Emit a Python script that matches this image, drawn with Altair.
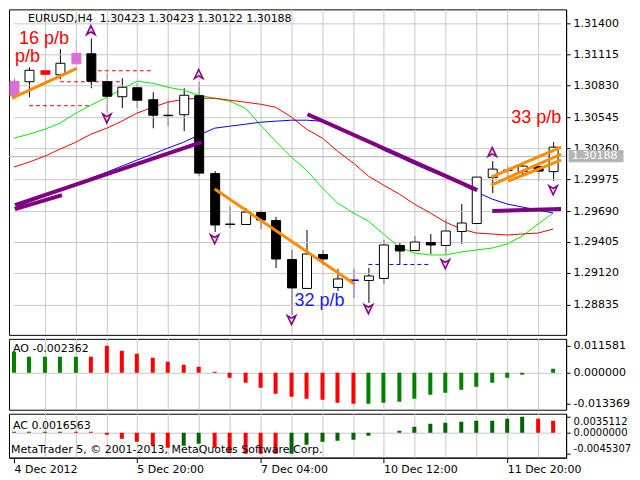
import altair as alt
import pandas as pd

FONT = "DejaVu Sans"
W = 558
H_MAIN, H_AO, H_AC = 326, 71, 44

# ---------------- data ----------------
bars = list(range(36))  # H4 bars, 4 Dec 2012 onwards
open_ = [1.30741, 1.30866, 1.30973, 1.30937, 1.31035, 1.31124, 1.30866, 1.30732, 1.30812, 1.30705,
         1.30563, 1.30572, 1.30741, 1.30037, 1.29565, 1.29565, 1.29681, 1.29601, 1.29254, 1.28986,
         1.29298, 1.28995, 1.29058, 1.29058, 1.29076, 1.29378, 1.29334, 1.29405, 1.29378, 1.29503,
         1.29574, 1.29993, 1.30064, 1.30055, 1.30100, 1.30055]
high = [1.30901, 1.30999, 1.31070, 1.31160, 1.31249, 1.31258, 1.30946, 1.30901, 1.30848, 1.30768,
        1.30696, 1.30803, 1.30857, 1.30055, 1.29735, 1.29717, 1.29699, 1.29637, 1.29334, 1.29512,
        1.29334, 1.29156, 1.29156, 1.29165, 1.29423, 1.29405, 1.29458, 1.29476, 1.29610, 1.29752,
        1.29993, 1.30144, 1.30100, 1.30127, 1.30118, 1.30313]
low = [1.30705, 1.30723, 1.30830, 1.30892, 1.31035, 1.30803, 1.30590, 1.30625, 1.30625, 1.30438,
       1.30465, 1.30411, 1.30002, 1.29494, 1.29530, 1.29556, 1.29521, 1.29165, 1.28737, 1.28978,
       1.29200, 1.28960, 1.28897, 1.28853, 1.29022, 1.29209, 1.29325, 1.29298, 1.29298, 1.29387,
       1.29574, 1.29850, 1.29984, 1.30002, 1.29957, 1.29957]
close = [1.30866, 1.30973, 1.30937, 1.31035, 1.31124, 1.30866, 1.30732, 1.30812, 1.30696, 1.30563,
         1.30563, 1.30741, 1.30037, 1.29556, 1.29565, 1.29681, 1.29601, 1.29254, 1.28986, 1.29298,
         1.29254, 1.29067, 1.29058, 1.29093, 1.29378, 1.29325, 1.29405, 1.29378, 1.29503, 1.29574,
         1.29993, 1.30073, 1.30064, 1.30100, 1.30055, 1.30269]
body_fill = ["#da70d6", "white", "red", "white", "#da70d6", "black", "black", "white", "black", "black",
             "black", "white", "black", "black", "black", "white", "black", "black", "black", "white",
             "black", "white", "blue", "white", "white", "black", "white", "black", "white", "white",
             "white", "white", "black", "white", "black", "white"]
body_edge = ["#da70d6", "black", "red", "black", "#da70d6"] + ["black"] * 17 + ["blue"] + ["black"] * 13

ma_green = [1.30349, 1.30385, 1.30429, 1.30492, 1.30581, 1.30652, 1.30723, 1.30794, 1.30866, 1.30848,
            1.30812, 1.30785, 1.30741, 1.30714, 1.30688, 1.30625, 1.30474, 1.30322, 1.30180, 1.30064,
            1.29895, 1.29761, 1.29672, 1.29592, 1.29476, 1.29360, 1.29307, 1.29289, 1.29289, 1.29316,
            1.29334, 1.29352, 1.29387, 1.29458, 1.29565, 1.29672]
ma_red = [1.30091, 1.30135, 1.30189, 1.30251, 1.30313, 1.30385, 1.30438, 1.30509, 1.30581, 1.30634,
          1.30679, 1.30705, 1.30714, 1.30714, 1.30696, 1.30679, 1.30661, 1.30634, 1.30545, 1.30429,
          1.30349, 1.30233, 1.30126, 1.30002, 1.29922, 1.29841, 1.29752, 1.29672, 1.29583, 1.29521,
          1.29485, 1.29476, 1.29467, 1.29476, 1.29485, 1.29521]
ma_blue = [1.29717, 1.29770, 1.29824, 1.29877, 1.29930, 1.29984, 1.30046, 1.30100, 1.30153, 1.30207,
           1.30260, 1.30313, 1.30376, 1.30438, 1.30465, 1.30483, 1.30501, 1.30509, 1.30518, 1.30518,
           1.30509, 1.30456, 1.30376, 1.30313, 1.30242, 1.30180, 1.30118, 1.30055, 1.29993, 1.29930,
           1.29859, 1.29797, 1.29752, 1.29726, 1.29699, 1.29672]

ao_values = [0.0093, 0.0069, 0.0069, 0.0070, 0.0070, 0.0069, 0.011581, 0.0095, 0.0082, 0.0065,
             0.0047, 0.0037, 0.0027, 0.0004, -0.0020, -0.0042, -0.0067, -0.0093, -0.0106, -0.0115,
             -0.01197, -0.0130, -0.013369, -0.01335, -0.0130, -0.01255, -0.01125, -0.0098, -0.0088, -0.00752,
             -0.0061, -0.0044, -0.0022, -0.0008, 0.0002, 0.0018]
ao_colors = ["#008000"] * 5 + ["#ff0000"] * 18 + ["#008000"] * 13

ac_values = [0.0003, 0.0003, 0.0003, 0.0003, 0.0003, 0.0003, -0.0004, -0.0013, -0.0019, -0.0027,
             -0.0032, -0.0027, -0.0023, -0.0032, -0.0042, -0.0044, -0.00448, -0.0045307, -0.0044, -0.0025,
             -0.0019, -0.0016, -0.0014, -0.0006, 0.0001, 0.0004, 0.0013, 0.0019, 0.0023, 0.0025,
             0.0026, 0.0027, 0.0031, 0.0035112, 0.0031, 0.0027]
ac_colors = (["#006400"] * 4 + ["#ff0000"] * 7 + ["#006400"] * 2 + ["#ff0000"] * 5
             + ["#006400"] * 16 + ["#ff0000"] * 2)

price_ticks = [1.28835, 1.29120, 1.29405, 1.29690, 1.29975, 1.30260, 1.30545, 1.30830, 1.31115, 1.31400]
price_domain = [1.28559, 1.31525]
ao_domain = [-0.01613, 0.01484]
ao_axis_values = [0.011581, 0.0, -0.013369]
ao_axis_labels = ["0.011581", "0.000000", "-0.013369"]
ac_domain = [-0.00531, 0.00414]
ac_axis_values = [0.0035112, 0.0, -0.0045307]
ac_axis_labels = ["0.0035112", "0.0000000", "-0.0045307"]
x_domain = [0, 35.5]
x_tick_bars = [0, 8, 16, 24, 32]
x_tick_labels = ["4 Dec 2012", "5 Dec 20:00", "7 Dec 04:00", "10 Dec 12:00", "11 Dec 20:00"]
grid_bars = list(range(2, 36, 2))

last_price = 1.30188
header_symbol = "EURUSD,H4"
header_ohlc = ["1.30423", "1.30423", "1.30122", "1.30188"]
ao_label = "AO -0.002362"
ac_label = "AC 0.0016563"
copyright_text = "MetaTrader 5, © 2001-2013, MetaQuotes Software Corp."

# trend lines (segment id, bar, price)
purple_seg = ["p1", "p1", "p1b", "p1b", "p2", "p2", "p3", "p3"]
purple_bar = [0.06, 12.19, 0.06, 3.1, 19.06, 30.06, 31.0, 35.5]
purple_price = [1.29743, 1.30313, 1.29708, 1.29832, 1.30572, 1.29877, 1.29690, 1.29708]
orange_seg = ["o1", "o1", "o2", "o2", "o3", "o3", "o4", "o4", "o5", "o5"]
orange_bar = [-0.125, 4.06, 13.0, 22.06, 30.94, 35.5, 30.94, 35.5, 32.06, 35.5]
orange_price = [1.30714, 1.30990, 1.29886, 1.29022, 1.29993, 1.30269, 1.29922, 1.30207, 1.29957, 1.30153]

# dashed levels
red_lvl_start = [5.0, 3.0, 1.0]
red_lvl_end = [8.94, 6.94, 4.875]
red_lvl_price = [1.30973, 1.30866, 1.30652]
blue_lvl_start = [23.0]
blue_lvl_end = [26.94]
blue_lvl_price = [1.29209]

# fractal arrows
up_bar = [5, 12, 31]
up_price = [1.31338, 1.30937, 1.30224]
down_bar = [6, 13, 18, 23, 28, 35]
down_price = [1.30536, 1.29432, 1.28693, 1.28799, 1.29209, 1.29877]

# text labels
ann_text = ["16 p/b", "p/b", "32 p/b", "33 p/b"]
ann_bar = [0.31, 0.06, 18.19, 32.25]
ann_price = [1.31255, 1.31085, 1.28871, 1.30536]
ann_color = ["#ff0000", "#ff0000", "#1a1aff", "#ff0000"]

# ---------------- tables ----------------
candles = pd.DataFrame({"bar": bars, "open": open_, "high": high, "low": low, "close": close,
                        "fill": body_fill, "edge": body_edge})
ma = pd.DataFrame({"bar": bars * 3, "ma": ma_green + ma_red + ma_blue,
                   "line": ["g"] * 36 + ["r"] * 36 + ["b"] * 36})
vgrid_df = pd.DataFrame({"bar": grid_bars})
hgrid_df = pd.DataFrame({"price": price_ticks, "x0": [x_domain[0]] * len(price_ticks),
                         "x1": [x_domain[1]] * len(price_ticks)})
zero_df = pd.DataFrame({"x0": [x_domain[0]], "x1": [x_domain[1]], "z": [0.0]})
purple = pd.DataFrame({"seg": purple_seg, "bar": purple_bar, "price": purple_price})
orange = pd.DataFrame({"seg": orange_seg, "bar": orange_bar, "price": orange_price})
red_lvls = pd.DataFrame({"bar": red_lvl_start, "bar2": red_lvl_end, "price": red_lvl_price})
blue_lvls = pd.DataFrame({"bar": blue_lvl_start, "bar2": blue_lvl_end, "price": blue_lvl_price})
ups = pd.DataFrame({"bar": up_bar, "price": up_price})
downs = pd.DataFrame({"bar": down_bar, "price": down_price})
anns = pd.DataFrame({"bar": ann_bar, "price": ann_price, "text": ann_text, "col": ann_color})
last = pd.DataFrame({"price": [last_price], "label": [f"{last_price:.5f}"]})
ao_df = pd.DataFrame({"bar": bars, "v": ao_values, "col": ao_colors})
ac_df = pd.DataFrame({"bar": bars, "v": ac_values, "col": ac_colors})

# ---------------- scales / axes ----------------
xs = alt.Scale(domain=x_domain, nice=False, zero=False, round=True)
X = alt.X("bar:Q", scale=xs, axis=None)
X2 = alt.X2("bar2")
ys = alt.Scale(domain=price_domain, nice=False, zero=False, round=True)
y_axis = alt.Axis(orient="right", values=price_ticks, format=".5f", grid=False, labelOverlap=False,
                  tickSize=4, tickColor="black", domainColor="black",
                  labelFont=FONT, labelFontSize=11, labelColor="black", labelPadding=3, title=None)


def Y(field):
    return alt.Y(f"{field}:Q", scale=ys, axis=y_axis)


GRID_COLOR = "#c8c8c8"
grid_h = dict(color=GRID_COLOR, strokeWidth=1, yOffset=0.5)
grid_v = dict(color=GRID_COLOR, strokeWidth=1, xOffset=0.5)

hgrid_lines = alt.Chart(hgrid_df).mark_rule(**grid_h).encode(
    x=alt.X("x0:Q", scale=xs, axis=None), x2="x1", y=Y("price"))


def vgrid_layer(height, xenc):
    return alt.Chart(vgrid_df).mark_rule(**grid_v).encode(x=xenc, y=alt.value(0), y2=alt.value(height))


price_line = alt.Chart(last).mark_rule(color="#b0b0b0", strokeWidth=1, yOffset=0.5).encode(y=Y("price"))
ma_lines = alt.Chart(ma).mark_line(strokeWidth=1, clip=True).encode(
    x=X, y=Y("ma"), detail="line:N",
    color=alt.Color("line:N", scale=alt.Scale(domain=["g", "r", "b"], range=["#00ee00", "#ff0000", "#0000ff"]),
                    legend=None))
red_dash = alt.Chart(red_lvls).mark_rule(color="#ff0000", strokeDash=[4, 3], strokeWidth=1, yOffset=0.5).encode(
    x=X, x2=X2, y=Y("price"))
blue_dash = alt.Chart(blue_lvls).mark_rule(color="#0000ff", strokeDash=[4, 3], strokeWidth=1,
                                           yOffset=0.5).encode(x=X, x2=X2, y=Y("price"))
wicks = alt.Chart(candles).mark_rule(strokeWidth=1, clip=True, xOffset=0.5).encode(
    x=X, y=Y("low"), y2=alt.Y2("high"), color=alt.Color("edge:N", scale=None))
bodies = alt.Chart(candles).mark_bar(size=9, strokeWidth=1, clip=True, xOffset=0.5, yOffset=0.5).encode(
    x=X, y=Y("open"), y2=alt.Y2("close"),
    fill=alt.Fill("fill:N", scale=None), stroke=alt.Stroke("edge:N", scale=None))
purple_lines = alt.Chart(purple).mark_line(color="#800080", strokeWidth=4, clip=True).encode(
    x=X, y=Y("price"), detail="seg:N")
orange_lines = alt.Chart(orange).mark_line(color="#ff8c00", strokeWidth=3, clip=True).encode(
    x=X, y=Y("price"), detail="seg:N")
up_path = "M0,-1L0.9,0.9L0,0.35L-0.9,0.9Z"
down_path = "M0,1L0.9,-0.9L0,-0.35L-0.9,-0.9Z"
up_marks = alt.Chart(ups).mark_point(shape=up_path, size=90, filled=True, fill="#f2d0f2",
                                     stroke="#800080", strokeWidth=1.5, opacity=1).encode(x=X, y=Y("price"))
down_marks = alt.Chart(downs).mark_point(shape=down_path, size=90, filled=True, fill="#f2d0f2",
                                         stroke="#800080", strokeWidth=1.5, opacity=1).encode(x=X, y=Y("price"))
ann_marks = alt.Chart(anns).mark_text(font="Liberation Sans", fontSize=18, align="left",
                                      baseline="middle", clip=True).encode(
    x=X, y=Y("price"), text="text:N", color=alt.Color("col:N", scale=None))
header = alt.Chart(last).mark_text(font=FONT, fontSize=11, align="left", baseline="middle",
                                   color="black").encode(
    x=alt.value(19), y=alt.value(10),
    text=alt.value(header_symbol + "\u00a0 " + " ".join(header_ohlc)))
box_path = "M-1,-0.22L1,-0.22L1,0.22L-1,0.22Z"
price_box = alt.Chart(last).mark_point(shape=box_path, size=3025, filled=True, color="#b4b4b4",
                                       opacity=1).encode(x=alt.value(W + 30), y=Y("price"))
price_box_text = alt.Chart(last).mark_text(font=FONT, fontSize=11, align="left", baseline="middle",
                                           color="white").encode(
    x=alt.value(W + 6), y=Y("price"), text="label:N")

main = alt.layer(wicks, vgrid_layer(H_MAIN, X), hgrid_lines, price_line, ma_lines, red_dash, blue_dash, bodies,
                 purple_lines, orange_lines, up_marks, down_marks, ann_marks, header, price_box, price_box_text
                 ).properties(width=W, height=H_MAIN)


# ---------------- AO panel ----------------
def expr_for(labels):
    return (f"datum.value > 0 ? '{labels[0]}' : (datum.value < 0 ? '{labels[2]}' : '{labels[1]}')")


ao_axis = alt.Axis(orient="right", values=ao_axis_values, labelExpr=expr_for(ao_axis_labels),
                   grid=False, labelOverlap=False, tickSize=4, tickColor="black", domainColor="black",
                   labelFont=FONT, labelFontSize=11, labelColor="black", labelPadding=3, title=None)
ao_scale = alt.Scale(domain=ao_domain, nice=False, zero=False, round=True)
ao_bars = alt.Chart(ao_df).mark_bar(size=4, clip=True).encode(
    x=X, y=alt.Y("v:Q", scale=ao_scale, axis=ao_axis), y2=alt.datum(0),
    color=alt.Color("col:N", scale=None))
ao_zero = alt.Chart(zero_df).mark_rule(**grid_h).encode(
    x=alt.X("x0:Q", scale=xs, axis=None), x2="x1", y=alt.Y("z:Q", scale=ao_scale, axis=ao_axis))
ao_text = alt.Chart(last).mark_text(font=FONT, fontSize=11, align="left", baseline="middle",
                                    color="black").encode(x=alt.value(4), y=alt.value(10), text=alt.value(ao_label))
ao_panel = alt.layer(vgrid_layer(H_AO, X), ao_zero, ao_bars, ao_text).properties(width=W, height=H_AO)

# ---------------- AC panel ----------------
x_label_expr = "[" + ", ".join(f"'{t}'" for t in x_tick_labels) + "][round(datum.value / 8)]"
x_axis = alt.Axis(values=x_tick_bars, labelExpr=x_label_expr, grid=False, tickSize=5, tickColor="black",
                  domainColor="black", labelAlign="left", labelFlush=False, labelOverlap=False, labelPadding=1,
                  labelFont=FONT, labelFontSize=11, labelColor="black", title=None)
XA = alt.X("bar:Q", scale=xs, axis=x_axis)
ac_axis = alt.Axis(orient="right", values=ac_axis_values, labelExpr=expr_for(ac_axis_labels),
                   grid=False, labelOverlap=False, tickSize=4, tickColor="black", domainColor="black",
                   labelFont=FONT, labelFontSize=10, labelColor="black", labelPadding=3, labelFlush=6,
                   title=None)
ac_scale = alt.Scale(domain=ac_domain, nice=False, zero=False, round=True)
ac_bars = alt.Chart(ac_df).mark_bar(size=4, clip=True).encode(
    x=XA, y=alt.Y("v:Q", scale=ac_scale, axis=ac_axis), y2=alt.datum(0),
    color=alt.Color("col:N", scale=None))
ac_zero = alt.Chart(zero_df).mark_rule(**grid_h).encode(
    x=alt.X("x0:Q", scale=xs, axis=x_axis), x2="x1", y=alt.Y("z:Q", scale=ac_scale, axis=ac_axis))
ac_text = alt.Chart(last).mark_text(font=FONT, fontSize=11, align="left", baseline="middle",
                                    color="black").encode(x=alt.value(4), y=alt.value(12), text=alt.value(ac_label))
copy_text = alt.Chart(last).mark_text(font=FONT, fontSize=11, align="left", baseline="middle",
                                      color="black").encode(x=alt.value(2), y=alt.value(36),
                                                            text=alt.value(copyright_text))
ac_panel = alt.layer(vgrid_layer(H_AC, XA), ac_zero, ac_bars, ac_text, copy_text).properties(width=W, height=H_AC)

chart = alt.vconcat(main, ao_panel, ac_panel, spacing=2).configure_view(
    stroke="black", strokeWidth=1).properties(padding=0, background="white")

chart.save("out.html", embed_options={"renderer": "svg", "actions": False})
